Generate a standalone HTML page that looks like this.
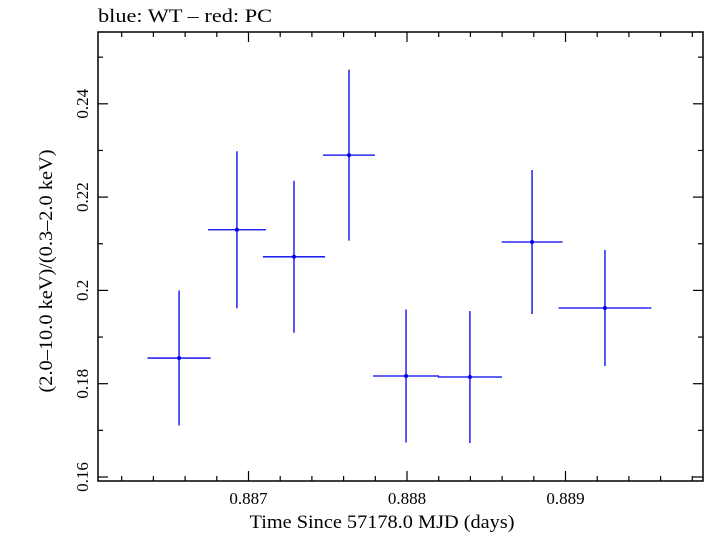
<!DOCTYPE html>
<html><head><meta charset="utf-8"><style>
body{margin:0;background:#fff;}
text{font-family:"Liberation Serif",serif;fill:#000;}
</style></head><body>
<svg id="chart" width="705" height="532" xmlns="http://www.w3.org/2000/svg">
<text x="98" y="22" font-size="19" textLength="174" lengthAdjust="spacingAndGlyphs">blue: WT – red: PC</text>
<rect x="98" y="32" width="605" height="449" fill="none" stroke="#000" stroke-width="1.5"/>
<g id="ticks"></g>
<g id="marks"></g>
<text x="382" y="528" font-size="19" text-anchor="middle" textLength="265" lengthAdjust="spacingAndGlyphs">Time Since 57178.0 MJD (days)</text>
<text transform="translate(52,271) rotate(-90)" font-size="19" text-anchor="middle" textLength="243" lengthAdjust="spacingAndGlyphs">(2.0–10.0 keV)/(0.3–2.0 keV)</text>
</svg>
<script>
const times=[0.886562,0.886927,0.887287,0.887634,0.887994,0.888397,0.888789,0.889249];
const timeErr=[0.000199,0.000183,0.000196,0.000164,0.000208,0.000202,0.000192,0.000293];
const ratios=[0.1855,0.2130,0.2072,0.2290,0.18165,0.18144,0.21037,0.19623];
const ratioErr=[0.01447,0.01683,0.01629,0.01833,0.01426,0.01415,0.01543,0.01243];
const xTickLabels=["0.887","0.888","0.889"];
const xTickValues=[0.887,0.888,0.889];
const yTickLabels=["0.16","0.18","0.2","0.22","0.24"];
const yTickValues=[0.16,0.18,0.2,0.22,0.24];
const NS="http://www.w3.org/2000/svg";
const L=98,R=703,T=32,B=481;
function xs(v){return 248.5+(v-0.887)*158500;}
function ys(v){return 477-(v-0.16)*4665;}
function mk(tag,attrs,parent){const e=document.createElementNS(NS,tag);for(const k in attrs)e.setAttribute(k,attrs[k]);parent.appendChild(e);return e;}
const tg=document.getElementById('ticks');
for(let i=-5;i<=15;i++){const v=0.887+i*0.0002;const x=xs(v);if(x<L+1||x>R-1)continue;const major=i%5===0;const len=major?10:5;
 const t1=mk('line',{x1:x,x2:x,y1:B,y2:B-len,stroke:'#000','stroke-width':1.2},tg);
 
 const t2=mk('line',{x1:x,x2:x,y1:T,y2:T+len,stroke:'#000','stroke-width':1.2},tg);
 }
xTickValues.forEach((v,i)=>{const t=mk('text',{x:xs(v),y:504,'font-size':17,'text-anchor':'middle'},tg);t.textContent=xTickLabels[i];
 });
for(let i=0;i<=10;i++){const v=0.16+i*0.01;const y=ys(v);if(y<T+1||y>B)continue;const major=i%2===0;const len=major?10:5;
 const t1=mk('line',{x1:L,x2:L+len,y1:y,y2:y,stroke:'#000','stroke-width':1.2},tg);
 
 const t2=mk('line',{x1:R,x2:R-len,y1:y,y2:y,stroke:'#000','stroke-width':1.2},tg);
 }
yTickValues.forEach((v,i)=>{const t=mk('text',{transform:`translate(88,${ys(v)}) rotate(-90)`,'font-size':17,'text-anchor':'middle'},tg);t.textContent=yTickLabels[i];
 });
const mg=document.getElementById('marks');
times.forEach((t,i)=>{const g=mk('g',{},mg);
 
 mk('line',{x1:xs(t-timeErr[i]),x2:xs(t+timeErr[i]),y1:ys(ratios[i]),y2:ys(ratios[i]),stroke:'#0000ee','stroke-width':1.3},g);
 mk('line',{x1:xs(t),x2:xs(t),y1:ys(ratios[i]-ratioErr[i]),y2:ys(ratios[i]+ratioErr[i]),stroke:'#0000ee','stroke-width':1.3},g);
 mk('circle',{cx:xs(t),cy:ys(ratios[i]),r:2,fill:'#0000ee'},g);});
</script>
</body></html>
